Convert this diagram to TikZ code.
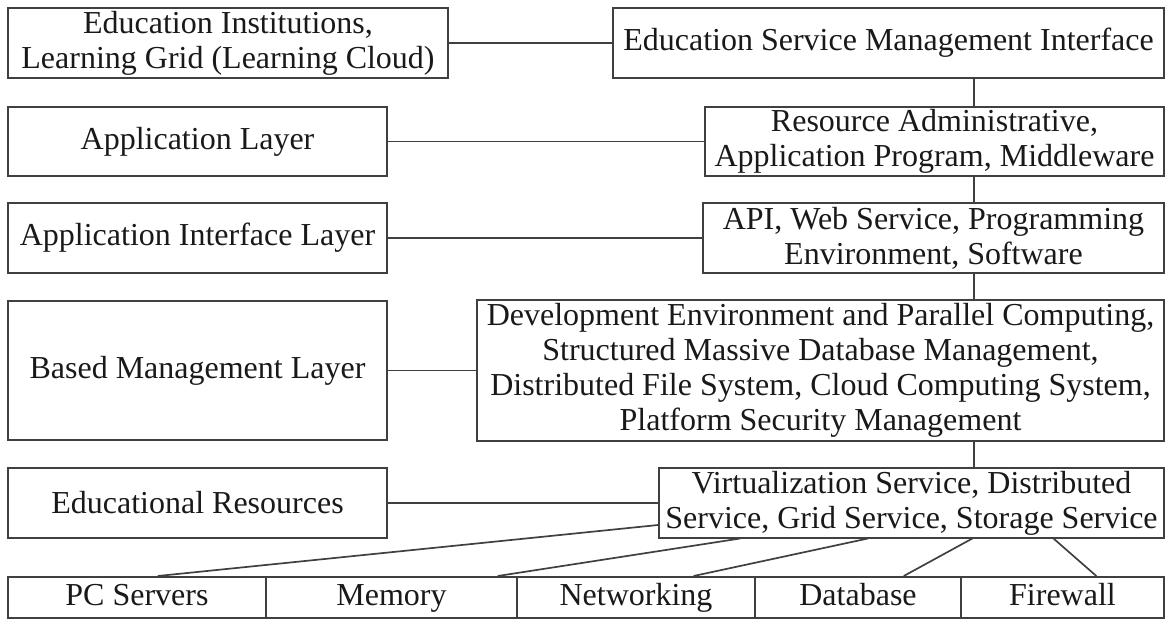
\documentclass[tikz,border=0pt]{standalone}
\usepackage{fontspec}
\setmainfont{Liberation Serif}
\usetikzlibrary{positioning,calc}

\begin{document}
\begin{tikzpicture}[x = 0.5pt, y = -0.5pt,
  box/.style = {draw = black!75, line width = 1pt, align = center, inner sep = 0pt, text = black!90, font = \fontsize{16}{17.5}\selectfont},
  cell/.style = {box, minimum height = 20.5pt, text height = 11pt, text depth = 3.5pt},
  link/.style = {draw = black!75, line width = 0.85pt}]
\useasboundingbox (0,0) rectangle (1166,619);
\node[box, minimum width = 220pt, minimum height = 35pt] (inst) at (228,43) {Education Institutions,\\Learning Grid (Learning Cloud)};
\node[box, minimum width = 275.5pt, minimum height = 35pt] (esmi) at (888.5,43) {Education Service Management Interface};
\node[box, minimum width = 189.5pt, minimum height = 34.5pt] (app) at (197.5,141.5) {Application Layer};
\node[box, minimum width = 229.5pt, minimum height = 34.5pt] (rapm) at (934.5,141.5) {Resource Administrative,\\Application Program, Middleware};
\node[box, minimum width = 189.5pt, minimum height = 35pt] (ail) at (197.5,238) {Application Interface Layer};
\node[box, minimum width = 230.5pt, minimum height = 35pt] (api) at (933.5,238) {API, Web Service, Programming\\Environment, Software};
\node[box, minimum width = 189.5pt, minimum height = 69.5pt] (bml) at (197.5,370.5) {Based Management Layer};
\node[box, minimum width = 343.5pt, minimum height = 70.5pt] (dev) at (820.5,370.5) {Development Environment and Parallel Computing,\\Structured Massive Database Management,\\Distributed File System, Cloud Computing System,\\Platform Security Management};
\node[box, minimum width = 189.5pt, minimum height = 35pt] (er) at (197.5,503) {Educational Resources};
\node[box, minimum width = 252.5pt, minimum height = 34.5pt] (virt) at (911.5,503) {Virtualization Service, Distributed\\Service, Grid Service, Storage Service};
\node[cell, minimum width = 129pt] (pc) at (137,597.5) {PC Servers};
\node[cell, minimum width = 125.5pt] (mem) at (391.5,597.5) {Memory};
\node[cell, minimum width = 119pt] (net) at (636,597.5) {Networking};
\node[cell, minimum width = 103pt] (db) at (858,597.5) {Database};
\node[cell, minimum width = 101.5pt] (fw) at (1062.5,597.5) {Firewall};
\coordinate (vx) at (974,0);
\draw[link] (inst.east) -- (esmi.west);
\draw[link] (app.east) -- (rapm.west);
\draw[link] (ail.east) -- (api.west);
\draw[link] (bml.east) -- (dev.west);
\draw[link] (er.east) -- (virt.west);
\draw[link] (esmi.south -| vx) -- (rapm.north -| vx);
\draw[link] (rapm.south -| vx) -- (api.north -| vx);
\draw[link] (api.south -| vx) -- (dev.north -| vx);
\draw[link] (dev.south -| vx) -- (virt.north -| vx);
\draw[link] ($(virt.north west)!0.81!(virt.south west)$) -- ($(pc.north west)!0.58!(pc.north east)$);
\draw[link] ($(virt.south west)!0.162!(virt.south east)$) -- ($(mem.north west)!0.92!(mem.north east)$);
\draw[link] ($(virt.south west)!0.414!(virt.south east)$) -- ($(net.north west)!0.74!(net.north east)$);
\draw[link] ($(virt.south west)!0.62!(virt.south east)$) -- ($(db.north west)!0.72!(db.north east)$);
\draw[link] ($(virt.south west)!0.78!(virt.south east)$) -- ($(fw.north west)!0.665!(fw.north east)$);
\end{tikzpicture}
\end{document}
